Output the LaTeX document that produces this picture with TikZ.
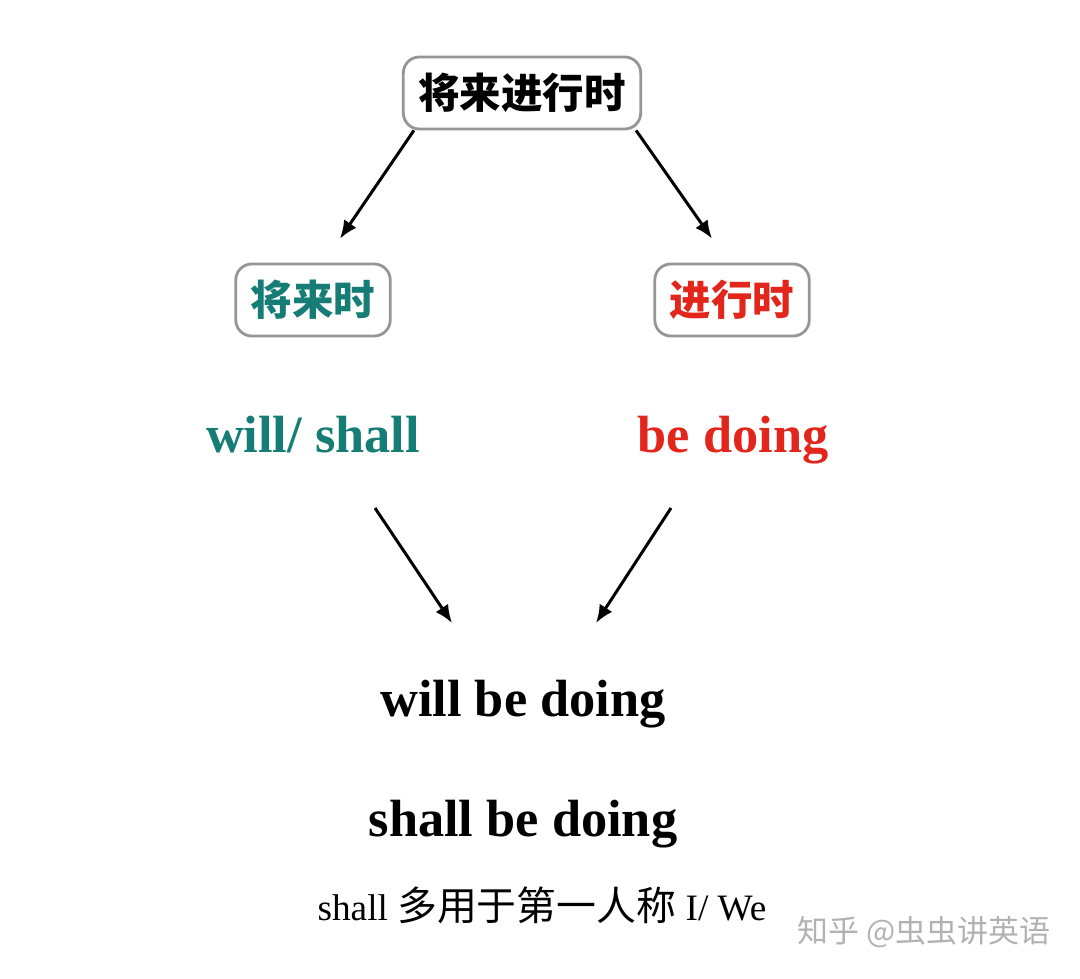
\documentclass[tikz,border=0pt]{standalone}
\usepackage{fontspec}
\setmainfont{Liberation Serif}
\newfontfamily\cjk{Noto Sans CJK SC}
\newfontfamily\cjknote{Noto Sans CJK SC}[Scale=1.07]
\usetikzlibrary{
  arrows.meta,
  positioning,
  calc
}
\usepackage{xcolor}
\definecolor{tealGreen}{RGB}{22,124,118}
\definecolor{tenseRed}{RGB}{226,38,28}
\definecolor{boxGray}{RGB}{150,150,150}
\definecolor{markGray}{RGB}{178,178,178}
\tikzset{
  tenseBox/.style={
    rectangle,
    rounded corners=0.16cm,
    draw=boxGray,
    line width=0.8pt,
    inner xsep=0.15cm,
    minimum height=0.72cm,
    font=\cjk\bfseries\fontsize{11.8pt}{13pt}\selectfont
  }
}
\tikzset{
  formText/.style={
    inner sep=0pt,
    anchor=base,
    font=\bfseries\fontsize{14.9pt}{17pt}\selectfont
  }
}
\tikzset{
  tenseArrow/.style={
    line width=0.85pt,
    -{Latex[length=0.18cm,width=0.15cm]}
  }
}

\begin{document}
\begin{tikzpicture}
    \useasboundingbox (0,0) rectangle (10.8,9.78);
    % tense boxes
    \node[tenseBox] (future) at (5.22,8.85) {将来进行时};
    \node[tenseBox,text=tealGreen] (will) at (3.13,6.78) {将来时};
    \node[tenseBox,text=tenseRed] (prog) at (7.32,6.78) {进行时};
    % forms
    \node[formText,text=tealGreen] (willshall) at (3.13,5.26) {will/ shall};
    \node[formText,text=tenseRed] (bedoing) at (7.33,5.26) {be doing};
    \node[formText] (willbe) at (5.23,2.62) {will be doing};
    \node[formText] (shallbe) at (5.23,1.42) {shall be doing};
    \node[inner sep=0pt,anchor=base,font=\fontsize{10.6pt}{13pt}\selectfont]
      (note) at (5.42,0.58) {shall {\cjknote 多用于第一人称} I/ We};
    \node[inner sep=0pt,anchor=base,text=markGray,font=\cjk\fontsize{8.8pt}{10pt}\selectfont]
      (mark) at (9.24,0.36) {知乎 @虫虫讲英语};
    % arrows
    \draw[tenseArrow]
    ([xshift=0.12cm]future.south west) -- ([shift={(0.27,0.24)}]will.north);
    \draw[tenseArrow]
    ([xshift=-0.06cm]future.south east) -- ([shift={(-0.20,0.24)}]prog.north);
    \draw[tenseArrow]
    ([shift={(0.62,-0.56)}]willshall.base) -- ([shift={(-0.71,0.93)}]willbe.base);
    \draw[tenseArrow]
    ([shift={(-0.62,-0.56)}]bedoing.base) -- ([shift={(0.73,0.93)}]willbe.base);
  \end{tikzpicture}
\end{document}
